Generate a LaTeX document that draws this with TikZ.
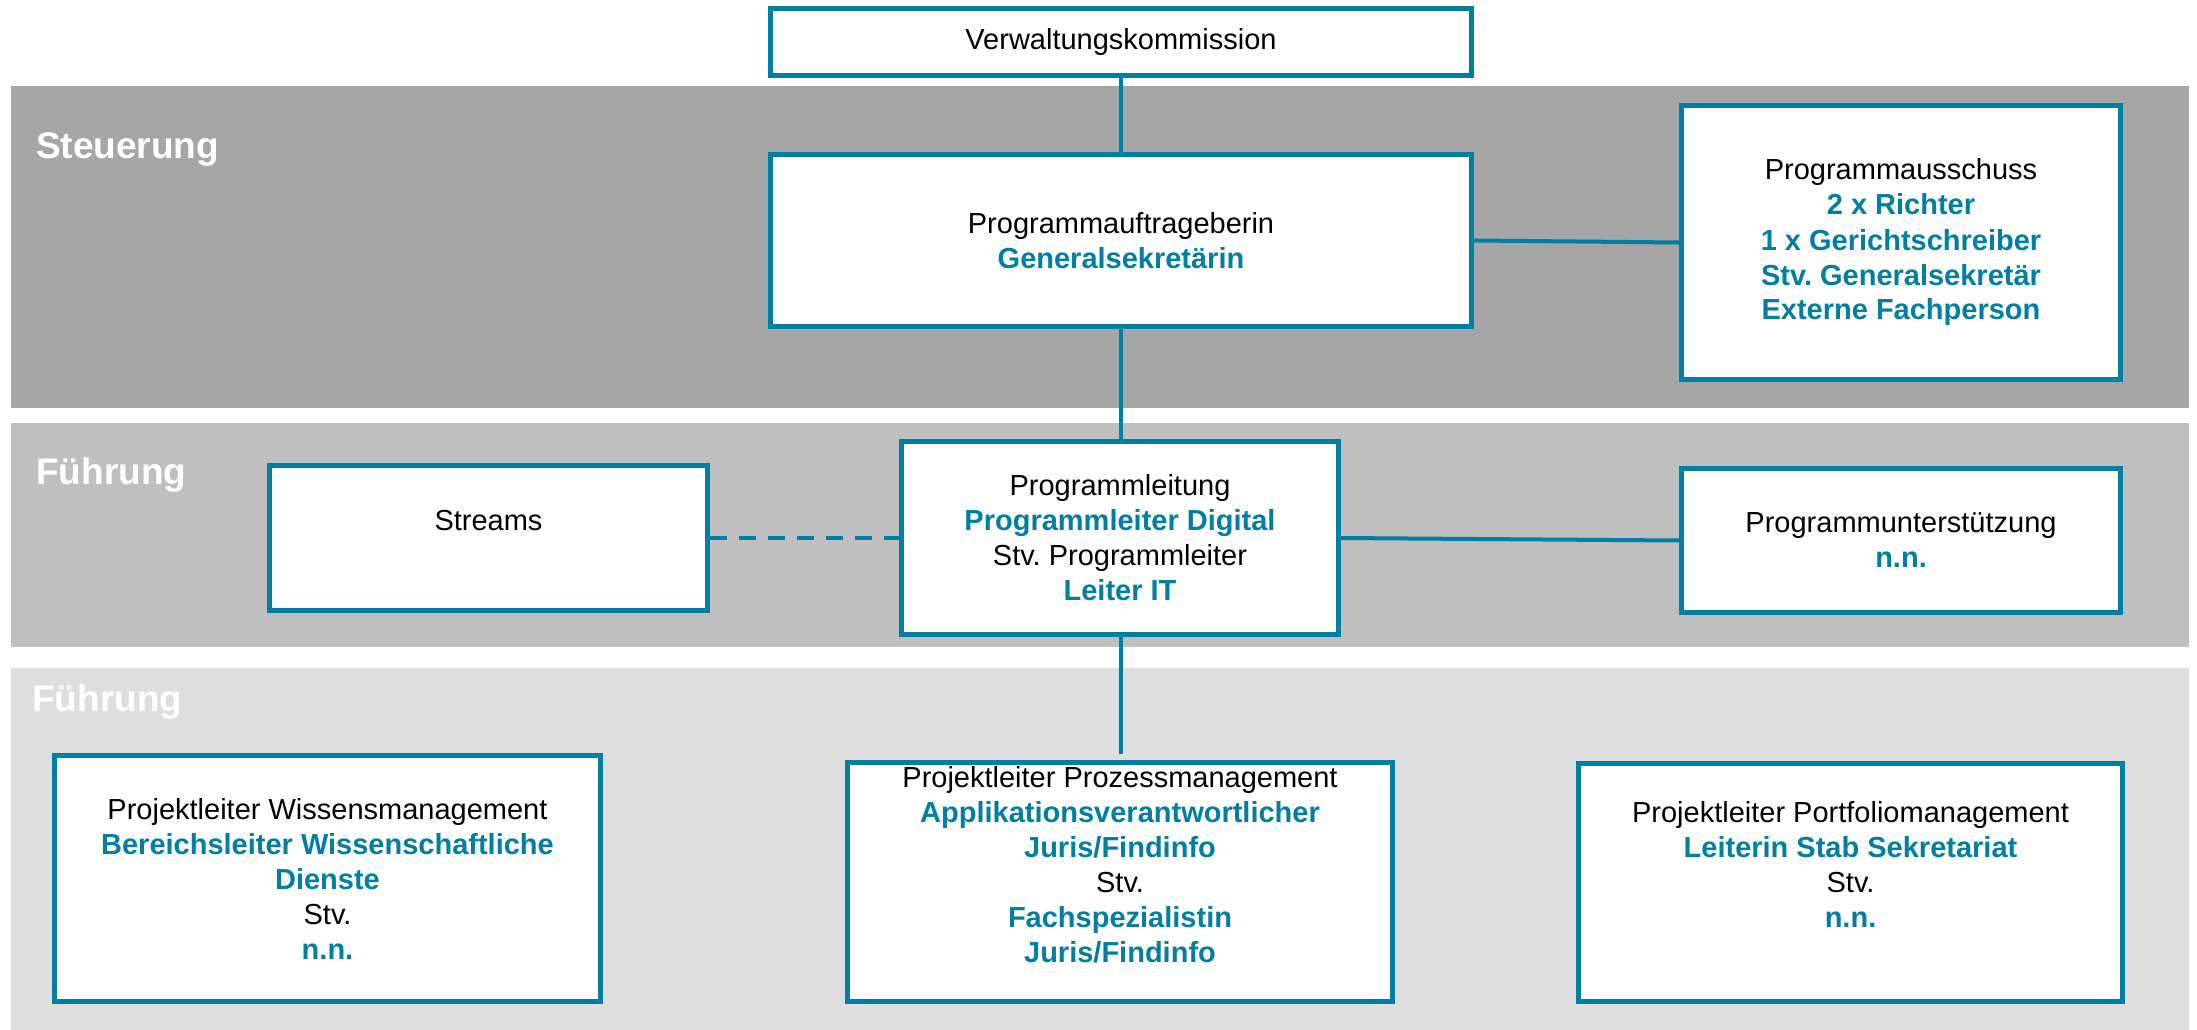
\documentclass[tikz,border=0pt]{standalone}
\usepackage{fontspec}
\setmainfont{Liberation Sans}
\definecolor{bl}{RGB}{0,126,163}
\definecolor{bandA}{HTML}{A6A6A6}
\definecolor{bandB}{HTML}{BFBFBF}
\definecolor{bandC}{HTML}{DEDEDE}
\newcommand\hlt[1]{\textcolor{bl}{\textbf{#1}}}
\frenchspacing
\begin{document}
\begin{tikzpicture}[x=1pt,y=-1pt,
  box/.style={draw=bl, line width=5pt, fill=white, inner sep=0pt, align=center,
    font=\fontsize{29}{35}\selectfont},
  conn/.style={draw=bl, line width=4pt},
  lbl/.style={anchor=base west, text=white, inner sep=0pt,
    font=\fontsize{37}{44}\selectfont\bfseries}]
\useasboundingbox (0,0) rectangle (2197,1030);
% bands
\fill[bandA] (11,86) rectangle (2189,408);
\fill[bandB] (11,423) rectangle (2189,647);
\fill[bandC] (11,668) rectangle (2189,1030);
\node[lbl] (lsteu) at (36,158) {Steuerung};
\node[lbl] (lfue1) at (36,484) {Führung};
\node[lbl] (lfue2) at (32,711) {Führung};
% boxes
\node[box, minimum width=701pt, minimum height=67pt] (verw) at (1121,42) {Verwaltungskommission};
\node[box, minimum width=701pt, minimum height=172pt] (auftrag) at (1121,240.5)
  {Programmauftrageberin\\\hlt{Generalsekretärin}};
\node[box, minimum width=439pt, minimum height=274pt] (aussch) at (1901,242.5)
  {Programmausschuss\\\hlt{2 x Richter}\\\hlt{1 x Gerichtschreiber}\\\hlt{Stv. Generalsekretär}\\\hlt{Externe Fachperson}};
\node[box, minimum width=438pt, minimum height=145pt] (streams) at (488.5,538)
  {Streams\\\mbox{}};
\node[box, minimum width=437pt, minimum height=193pt] (leitung) at (1120,538)
  {Programmleitung\\\hlt{Programmleiter Digital}\\Stv. Programmleiter\\\hlt{Leiter IT}};
\node[box, minimum width=439pt, minimum height=144pt] (unterst) at (1901,540.5)
  {Programmunterstützung\\\hlt{n.n.}};
\node[box, minimum width=546pt, minimum height=246pt] (wissen) at (327.5,878.5)
  {Projektleiter Wissensmanagement\\\hlt{Bereichsleiter Wissenschaftliche}\\\hlt{Dienste}\\Stv.\\\hlt{n.n.}};
\node[box, minimum width=545pt, minimum height=239pt] (prozess) at (1120,882)
  {Projektleiter Prozessmanagement\\\hlt{Applikationsverantwortlicher}\\\hlt{Juris/Findinfo}\\Stv.\\\hlt{Fachspezialistin}\\\hlt{Juris/Findinfo}\\\mbox{}};
\node[box, minimum width=544pt, minimum height=238pt] (portf) at (1850.5,882)
  {Projektleiter Portfoliomanagement\\\hlt{Leiterin Stab Sekretariat}\\Stv.\\\hlt{n.n.}\\\mbox{}};
% connectors
\coordinate (pend) at (1121,754);
\draw[conn] (verw.south) -- (auftrag.north);
\draw[conn] (auftrag.east) -- (aussch.west);
\draw[conn] (auftrag.south) -- (auftrag.south |- leitung.north);
\draw[conn, dash pattern=on 16.7pt off 12.3pt] (streams.east) -- (leitung.west);
\draw[conn] (leitung.east) -- (unterst.west);
\draw[conn] (leitung.south -| pend) -- (pend);
\end{tikzpicture}
\end{document}
